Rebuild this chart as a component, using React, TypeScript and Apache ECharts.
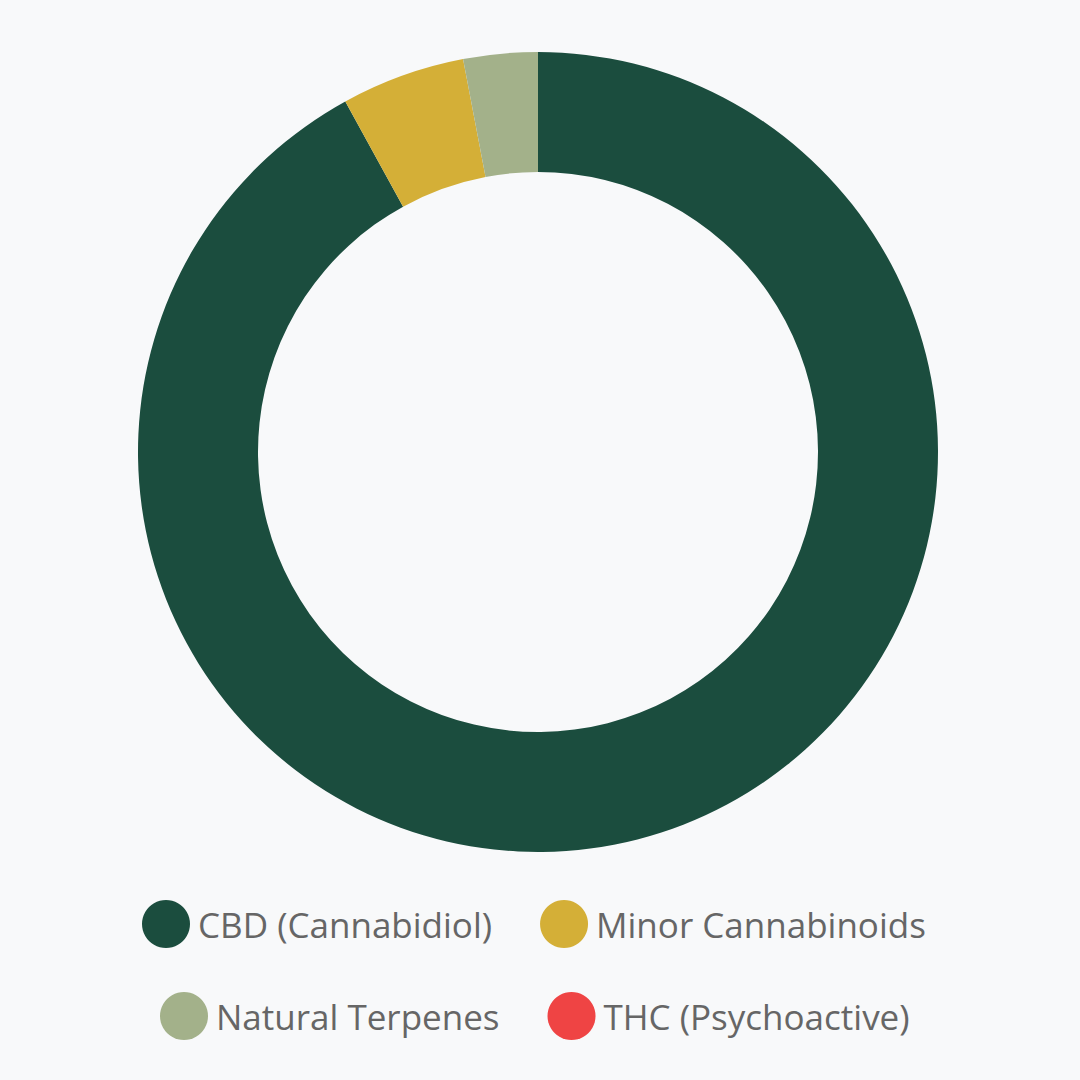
import { useEffect, useRef } from 'react'
import * as echarts from 'echarts'

const categories = ['CBD (Cannabidiol)', 'Minor Cannabinoids', 'Natural Terpenes', 'THC (Psychoactive)']
const shares = [92, 5, 3, 0]
const colors = ['#1b4d3e', '#d4af37', '#a3b18a', '#ef4444']

export default function App() {
  const ref = useRef<HTMLDivElement>(null)

  useEffect(() => {
    if (!ref.current) return
    const chart = echarts.init(ref.current, undefined, { renderer: 'svg' })

    const legendBase = {
      orient: 'horizontal' as const,
      icon: 'circle',
      itemWidth: 48,
      itemHeight: 48,
      itemGap: 48,
      padding: 0,
      textStyle: {
        fontFamily: 'Open Sans',
        fontSize: 35,
        color: '#666666',
        padding: [0, 0, 0, 3],
      },
      selectedMode: false,
    }

    chart.setOption({
      animation: false,
      backgroundColor: '#f8f9fa',
      color: colors,
      legend: [
        { ...legendBase, left: 142, top: 900, data: categories.slice(0, 2) },
        { ...legendBase, left: 160, top: 992, data: categories.slice(2) },
      ],
      series: [{
        type: 'pie',
        center: [538, 452],
        radius: [280, 400],
        startAngle: 90,
        clockwise: true,
        label: { show: false },
        labelLine: { show: false },
        emphasis: { disabled: true },
        data: categories.map((name, i) => ({ name, value: shares[i] })),
      }],
    })

    return () => chart.dispose()
  }, [])

  return (
    <div
      ref={ref}
      style={{ position: 'absolute', left: 0, top: 0, width: 1080, height: 1080 }}
    />
  )
}
